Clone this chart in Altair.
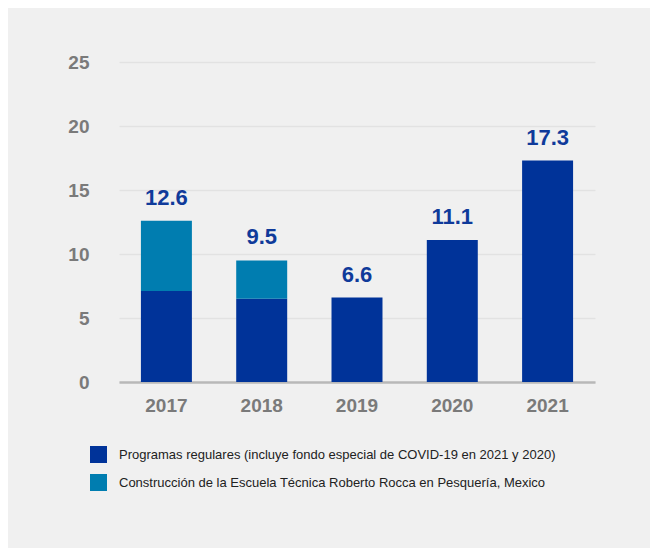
import altair as alt
import pandas as pd

years = ["2017", "2018", "2019", "2020", "2021"]
regular = [7.1, 6.5, 6.6, 11.1, 17.3]
construction = [5.5, 3.0, 0.0, 0.0, 0.0]
totals = [12.6, 9.5, 6.6, 11.1, 17.3]
series = [
    "Programas regulares (incluye fondo especial de COVID-19 en 2021 y 2020)",
    "Construcción de la Escuela Técnica Roberto Rocca en Pesquería, Mexico",
]
colors = ["#003399", "#007DB0"]

rows = []
for i, y in enumerate(years):
    rows.append({"year": y, "series": series[0], "value": regular[i], "ord": 0})
    if construction[i] > 0:
        rows.append({"year": y, "series": series[1], "value": construction[i], "ord": 1})
df = pd.DataFrame(rows)
tot = pd.DataFrame({"year": years, "total": totals, "label": [f"{t:.1f}" for t in totals]})

FONT = "Liberation Sans"

xenc = alt.X("year:N", sort=years, title=None,
             scale=alt.Scale(paddingInner=0.465, paddingOuter=0.23),
             axis=alt.Axis(labelAngle=0, labelFont=FONT, labelFontSize=19, labelFontWeight="bold",
                           labelColor="#7a7a7a", labelPadding=14, ticks=False,
                           domainColor="#b8b8b8", domainWidth=2.5, grid=False))

bars = alt.Chart(df).mark_bar().encode(
    x=xenc,
    y=alt.Y("value:Q", stack="zero", title=None,
            scale=alt.Scale(domain=[0, 25], nice=False),
            axis=alt.Axis(values=[0, 5, 10, 15, 20, 25], labelFont=FONT, labelFontSize=19,
                          labelFontWeight="bold", labelColor="#7a7a7a", labelPadding=30,
                          ticks=False, domain=False, gridColor="#e2e2e2", gridWidth=1.5)),
    color=alt.Color("series:N", scale=alt.Scale(domain=series, range=colors),
                    legend=alt.Legend(title=None, orient="none", legendX=-29, legendY=384,
                                      symbolType="square", symbolSize=289, symbolStrokeWidth=0,
                                      labelFont=FONT, labelFontSize=13, labelColor="#222222",
                                      labelLimit=600, rowPadding=11, labelOffset=12)),
    order=alt.Order("ord:Q"),
)

labels = alt.Chart(tot).mark_text(baseline="bottom", dy=-11, font=FONT, fontSize=22,
                                  fontWeight="bold", color="#0f3a9a").encode(
    x=alt.X("year:N", sort=years),
    y=alt.Y("total:Q"),
    text="label:N",
)

chart = alt.layer(bars, labels).properties(
    width=476, height=320,
    background="#f0f0f0",
    padding={"left": 111, "top": 54, "right": 55, "bottom": 166},
    autosize=alt.AutoSizeParams(type="none"),
).configure_view(stroke=None)

chart.save("out.html", embed_options={"renderer": "svg", "actions": False})
